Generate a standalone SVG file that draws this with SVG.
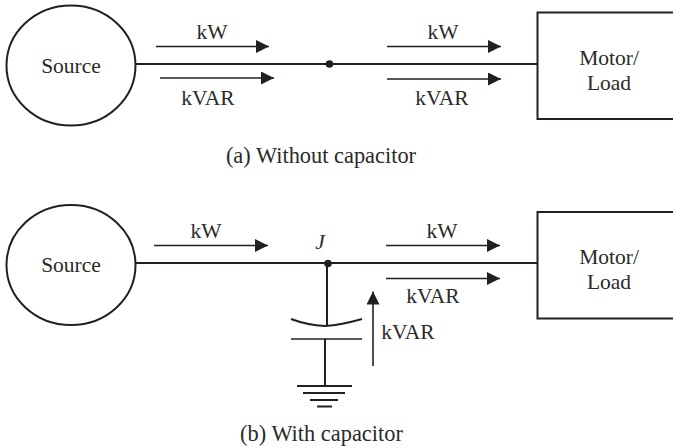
<svg xmlns="http://www.w3.org/2000/svg" width="673" height="448" viewBox="0 0 673 448">
<style>
text{font-family:"Liberation Serif","Times New Roman",serif;font-size:21.500px;fill:#2b2a29;text-anchor:middle}
.cap{font-size:22.400px}
.s{fill:none;stroke:#231f20;stroke-width:2}
.t{fill:none;stroke:#231f20;stroke-width:1.6}
.c{fill:#fff;stroke:#231f20;stroke-width:2}
</style>
<defs>
<marker id="a" markerUnits="userSpaceOnUse" markerWidth="13" markerHeight="13" refX="13" refY="6.5" orient="auto"><path d="M0 0L13 6.5L0 13Z" fill="#231f20"/></marker>
</defs>
<g id="connectors">
<path class="s" d="M136 64H538"/>
<path class="t" d="M156 46.500H269" marker-end="url(#a)"/>
<path class="t" d="M160 78H274" marker-end="url(#a)"/>
<path class="t" d="M387 46.500H501" marker-end="url(#a)"/>
<path class="t" d="M387 79H501" marker-end="url(#a)"/>
<path class="s" d="M134 263H538"/>
<path class="t" d="M154 245.500H268" marker-end="url(#a)"/>
<path class="t" d="M386 245.500H500" marker-end="url(#a)"/>
<path class="t" d="M386 278.500H500" marker-end="url(#a)"/>
<path class="s" d="M327 263V326"/>
<path class="s" d="M325 339V386"/>
<path class="t" d="M373 366V291.500" marker-end="url(#a)"/>
</g>
<g id="junction-a"><circle cx="329.500" cy="64" r="3.800" fill="#231f20"/></g>
<g id="junction-j"><circle cx="328" cy="263.500" r="3.800" fill="#231f20"/><text x="320" y="249" font-style="italic">J</text></g>
<g id="source-a"><ellipse class="c" cx="71" cy="65.500" rx="64.500" ry="60"/><text x="71" y="73">Source</text></g>
<g id="load-a"><rect class="c" x="537.500" y="12.500" width="140" height="106.500"/><text x="609" y="65">Motor/</text><text x="609" y="90">Load</text></g>
<g id="source-b"><ellipse class="c" cx="71" cy="265" rx="64.500" ry="60"/><text x="71" y="272">Source</text></g>
<g id="load-b"><rect class="c" x="537.500" y="212" width="140" height="106.500"/><text x="609" y="264">Motor/</text><text x="609" y="289">Load</text></g>
<g id="capacitor"><path class="s" d="M291 319Q307 325 325 326Q341 325 362 319"/><path class="t" d="M291 339H362"/></g>
<g id="ground"><path class="s" d="M297 386H352"/><path class="s" d="M303 393H345"/><path class="s" d="M310 400H338"/><path class="s" d="M317 406.500H332"/></g>
<g id="labels">
<text x="212" y="39">kW</text>
<text x="208" y="105">kVAR</text>
<text x="443" y="39">kW</text>
<text x="442" y="105">kVAR</text>
<text class="cap" x="321" y="163">(a) Without capacitor</text>
<text x="206" y="238">kW</text>
<text x="442" y="238">kW</text>
<text x="433" y="303">kVAR</text>
<text x="408" y="339">kVAR</text>
<text class="cap" x="321.500" y="441">(b) With capacitor</text>
</g>
</svg>
